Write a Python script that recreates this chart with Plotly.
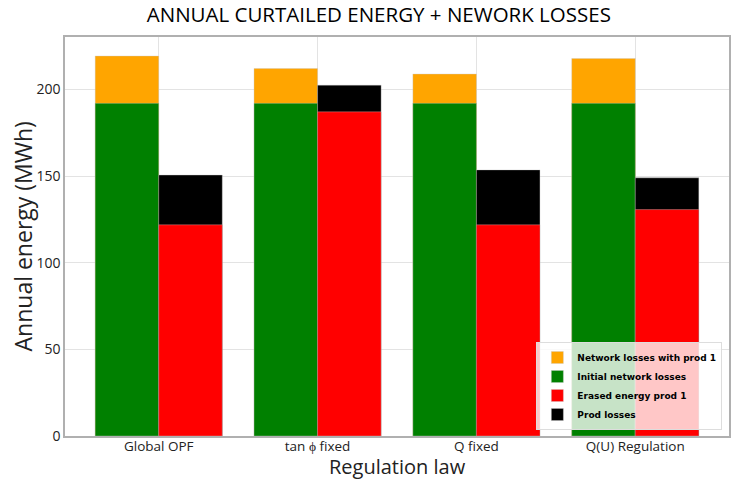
import plotly.graph_objects as go

categories = ["Global OPF", "tan \u03d5 fixed", "Q fixed", "Q(U) Regulation"]
network_losses_with_prod = [219.3, 212.1, 208.9, 217.9]
initial_network_losses = [192.0, 192.0, 192.0, 192.0]
prod_losses_total = [150.6, 202.5, 153.6, 149.0]
erased_energy_prod = [121.9, 187.1, 121.9, 130.7]
y_ticks = [0, 50, 100, 150, 200]

x = list(range(len(categories)))
w = 0.4
edge = dict(color="rgba(200,200,200,0.6)", width=0.6)

fig = go.Figure()
fig.add_trace(go.Bar(x=x, y=network_losses_with_prod, width=w, offset=-w,
                     marker=dict(color="#FFA500", line=edge),
                     name="Network losses with prod 1", legendrank=1))
fig.add_trace(go.Bar(x=x, y=initial_network_losses, width=w, offset=-w,
                     marker=dict(color="#008000", line=edge),
                     name="Initial network losses", legendrank=2))
fig.add_trace(go.Bar(x=x, y=prod_losses_total, width=w, offset=0,
                     marker=dict(color="#000000", line=edge),
                     name="Prod losses", legendrank=4))
fig.add_trace(go.Bar(x=x, y=erased_energy_prod, width=w, offset=0,
                     marker=dict(color="#FF0000", line=edge),
                     name="Erased energy prod 1", legendrank=3))

fig.update_layout(
    width=737, height=480,
    barmode="overlay",
    paper_bgcolor="white", plot_bgcolor="white",
    margin=dict(l=65, r=8, t=37, b=44, autoexpand=False),
    title=dict(text="ANNUAL CURTAILED ENERGY + NEWORK LOSSES",
               font=dict(family="Open Sans", size=20.5, color="black"),
               x=0.514, xanchor="center", y=0.969, yanchor="middle"),
    font=dict(family="Open Sans", color="#222"),
    legend=dict(x=0.99, y=0.015, xanchor="right", yanchor="bottom",
                bgcolor="rgba(255,255,255,0.78)", bordercolor="#dddddd", borderwidth=1,
                font=dict(family="DejaVu Sans", size=9, color="black", weight="bold"),
                itemwidth=30, tracegroupgap=0),
    xaxis=dict(range=[-0.59, 3.59], tickvals=x, ticktext=categories,
               tickfont=dict(size=13.5, color="#222"), ticklabelstandoff=-3,
               showgrid=True, gridcolor="#e3e3e3", gridwidth=1,
               showline=True, linecolor="#b0b0b0", linewidth=1.5, mirror=True,
               ticks="", zeroline=False, automargin=False),
    yaxis=dict(range=[0, 230.3], tickvals=y_ticks,
               tickfont=dict(size=14, color="#222"),
               showgrid=True, gridcolor="#e3e3e3", gridwidth=1,
               showline=True, linecolor="#b0b0b0", linewidth=1.5, mirror=True,
               ticks="", zeroline=False, automargin=False),
    annotations=[
        dict(text="Regulation law", xref="paper", yref="paper", x=0.5, y=-0.0764,
             xanchor="center", yanchor="middle", showarrow=False, borderpad=0,
             font=dict(family="Open Sans", size=20, color="#222")),
        dict(text="Annual energy (MWh)", xref="paper", yref="paper", x=-0.0633, y=0.5,
             xanchor="center", yanchor="middle", textangle=-90, showarrow=False,
             font=dict(family="Open Sans", size=23, color="#222")),
    ],
)

fig.write_html("out.html", config={"displayModeBar": False},
               post_script="document.body.style.margin='0';document.body.style.overflow='hidden';")
